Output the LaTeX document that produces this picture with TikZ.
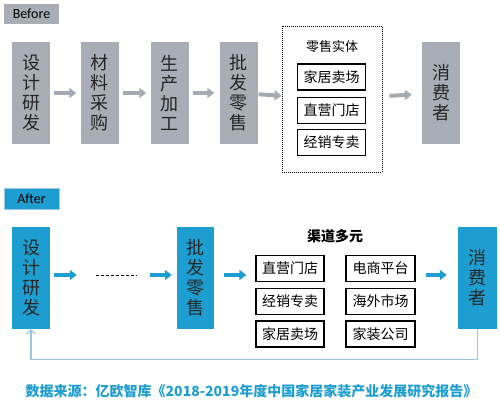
\documentclass[tikz,border=0pt]{standalone}
\usepackage{fontspec}
\setmainfont{Noto Sans CJK SC}
\newfontfamily\latinfont{Carlito}
\usetikzlibrary{arrows.meta}

\definecolor{stagegrey}{RGB}{169,173,182}
\definecolor{flowgrey}{RGB}{166,170,178}
\definecolor{stageblue}{RGB}{30,158,208}
\definecolor{loopblue}{RGB}{157,195,230}

\begin{document}
\begin{tikzpicture}[x=1pt,y=-1pt,
    stage/.style={minimum width=38pt,minimum height=102pt,inner sep=0pt,align=center,
                  text=black!85,font=\fontsize{18}{20}\selectfont},
    shop/.style={draw=black,line width=1.2pt,minimum width=68pt,minimum height=26pt,
                 inner sep=0pt,font=\fontsize{14}{14}\selectfont},
    tag/.style={minimum width=55pt,minimum height=20pt,inner sep=0pt,
                font=\latinfont\fontsize{14}{14}\selectfont},
    flow/.style={line width=4pt,-{Triangle[length=7pt,width=10pt]}}]
  \useasboundingbox (0,0) rectangle (500,410);

  % Drawing the Before chain
  \node [tag,fill=stagegrey] (before) at (31.5,14) {Before};
  \node [stage,fill=stagegrey] (design) at (31,93) {设\\计\\研\\发};
  \node [stage,fill=stagegrey] (material) at (99.5,93) {材\\料\\采\\购};
  \node [stage,fill=stagegrey] (produce) at (169.5,93) {生\\产\\加\\工};
  \node [stage,fill=stagegrey] (wholesale) at (238.5,93) {批\\发\\零\\售};
  \node [draw,line width=0.9pt,dash pattern=on 1pt off 1pt,minimum width=100pt,
         minimum height=146pt,inner sep=0pt] (retail) at (332,99) {};
  \node [font=\fontsize{13}{13}\selectfont] (retail title) at (332,47) {零售实体};
  \node [shop] (mall) at (331.5,77) {家居卖场};
  \node [shop] (direct) at (331.5,110.5) {直营门店};
  \node [shop] (franchise) at (331.5,142.5) {经销专卖};
  \node [stage,fill=stagegrey] (consumer) at (441,93) {消\\费\\者};

  \draw [flow,flowgrey,shorten <=4pt,shorten >=4pt] (design) -- (material);
  \draw [flow,flowgrey,shorten <=4pt,shorten >=4pt] (material) -- (produce);
  \draw [flow,flowgrey,shorten <=4pt,shorten >=5pt] (produce) -- (wholesale);
  \draw [flow,flowgrey,shorten <=1pt] (wholesale) -- (retail);
  \draw [flow,flowgrey,shorten <=7pt,shorten >=10pt] (retail) -- (consumer);

  % Drawing the After chain
  \node [tag,fill=stageblue,draw=loopblue,line width=0.6pt,minimum height=21pt] (after) at (31.5,198.5) {After};
  \node [stage,fill=stageblue] (new design) at (31,278) {设\\计\\研\\发};
  \node [minimum width=41pt,inner sep=0pt] (gap) at (116.5,275) {};
  \node [stage,fill=stageblue,minimum width=37pt] (new wholesale) at (195.5,278) {批\\发\\零\\售};
  \node [font=\bfseries\fontsize{14}{14}\selectfont] (channel title) at (335,236) {渠道多元};
  \node [shop] (new direct) at (290,268.5) {直营门店};
  \node [shop] (new franchise) at (290,301.5) {经销专卖};
  \node [shop] (new mall) at (290,334) {家居卖场};
  \node [shop,minimum width=69pt] (online) at (380.5,268.5) {电商平台};
  \node [shop,minimum width=69pt] (overseas) at (380.5,301.5) {海外市场};
  \node [shop,minimum width=69pt] (decor) at (380.5,334) {家装公司};
  \node [stage,fill=stageblue,minimum width=39pt] (new consumer) at (477.5,278) {消\\费\\者};

  \draw [flow,stageblue,shorten <=4pt,shorten >=19pt] (new design.east |- gap) -- (gap.west);
  \draw [densely dashed,line width=0.6pt] (gap.west) -- (gap.east);
  \draw [flow,stageblue,shorten <=13pt,shorten >=5pt] (gap.east) -- (new wholesale.west |- gap);
  \draw [flow,stageblue,shorten <=10pt,shorten >=9pt] (new wholesale.east |- gap) -- (new direct.west |- gap);
  \draw [flow,stageblue,shorten <=10pt,shorten >=11pt] (online.east |- gap) -- (new consumer.west |- gap);

  % Drawing the feedback loop
  \draw [loopblue,line width=1.2pt,-{Straight Barb[length=4pt,width=9pt]}]
        (new consumer.south) -- ++(0,30) -| (new design.south);

  % Drawing the source line
  \node [text=stageblue,font=\bfseries\fontsize{14}{14}\selectfont] (source) at (251.5,391)
        {数据来源：亿欧智库《2018-2019年度中国家居家装产业发展研究报告》};
\end{tikzpicture}
\end{document}
